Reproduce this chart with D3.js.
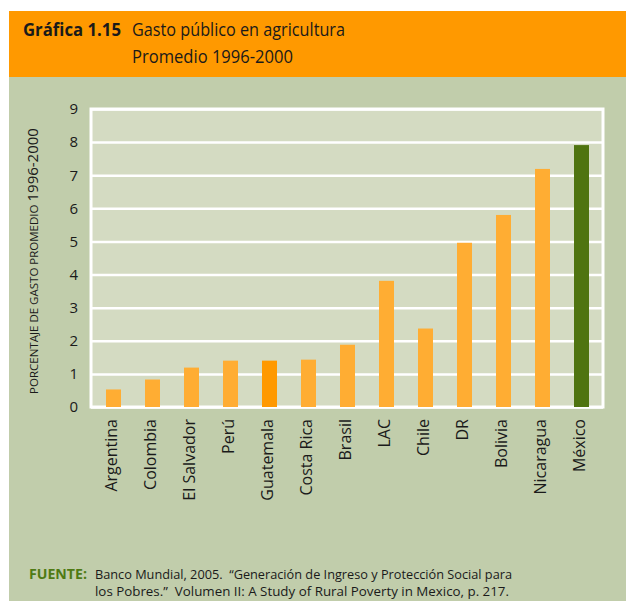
<!DOCTYPE html>
<html>
<head>
<meta charset="utf-8">
<script src="https://cdn.jsdelivr.net/npm/d3@7"></script>
<style>
  body { margin: 0; background: #fff; }
  svg { display: block; font-family: "Open Sans", "Noto Sans", sans-serif; }
</style>
</head>
<body>
<div id="chart"></div>
<script>
// data
var paises = ["Argentina", "Colombia", "El Salvador", "Perú", "Guatemala", "Costa Rica",
              "Brasil", "LAC", "Chile", "DR", "Bolivia", "Nicaragua", "México"];
var gasto = [0.53, 0.83, 1.19, 1.40, 1.40, 1.43, 1.88, 3.81, 2.37, 4.96, 5.80, 7.19, 7.91];
var yTicks = [0, 1, 2, 3, 4, 5, 6, 7, 8, 9];
var resaltados = { "Guatemala": "#ff9900", "México": "#4f7410" };

var W = 626, H = 601;
var margin = {top: 109, right: 23, bottom: 193, left: 91},
    width = W - margin.left - margin.right,
    height = H - margin.top - margin.bottom;

var svg = d3.select("#chart")
  .append("svg")
  .attr("width", W)
  .attr("height", H);

// background panels
svg.append("rect").attr("x", 9).attr("y", 77).attr("width", W - 9).attr("height", H - 77)
  .attr("fill", "#c1cdab");
svg.append("rect").attr("x", 9).attr("y", 11).attr("width", W - 9).attr("height", 66)
  .attr("fill", "#ff9900");

// header (font is narrower in the original, squeeze to its width)
function fitText(sel, len) {
  sel.attr("textLength", len).attr("lengthAdjust", "spacingAndGlyphs");
}
svg.append("text").attr("x", 23).attr("y", 36)
  .style("font-size", "18.5px").style("font-weight", "bold").attr("fill", "#1a1a1a")
  .text("Gráfica 1.15").call(fitText, 98);
svg.append("text").attr("x", 132).attr("y", 36)
  .style("font-size", "18.5px").attr("fill", "#1a1a1a")
  .text("Gasto público en agricultura").call(fitText, 213);
svg.append("text").attr("x", 132).attr("y", 63)
  .style("font-size", "18.5px").attr("fill", "#1a1a1a")
  .text("Promedio 1996-2000").call(fitText, 161);

var g = svg.append("g")
  .attr("transform", "translate(" + margin.left + "," + margin.top + ")");

var x = d3.scaleBand()
  .domain(paises)
  .range([3, width - 2])
  .paddingInner(24 / 39)
  .paddingOuter(12 / 39);

var y = d3.scaleLinear()
  .domain([0, 9])
  .range([height - 1, 0]);

// plot area
g.append("rect")
  .attr("x", 0).attr("y", 0)
  .attr("width", width).attr("height", height - 1)
  .attr("fill", "#d4dbc2")
  .attr("stroke", "#fff")
  .attr("stroke-width", 3);

// grid
g.append("g")
  .call(d3.axisLeft(y).tickValues(yTicks).tickSize(-width).tickFormat(""))
  .call(gg => gg.select(".domain").remove())
  .call(gg => gg.selectAll(".tick line").attr("stroke", "#fff").attr("stroke-width", 2.5));

// y tick labels
g.append("g")
  .call(d3.axisLeft(y).tickValues(yTicks).tickSize(0).tickPadding(13).tickFormat(d3.format("d")))
  .call(gg => gg.select(".domain").remove())
  .call(gg => gg.selectAll(".tick text")
    .style("font-size", "15px")
    .style("font-family", "'Open Sans', sans-serif")
    .attr("fill", "#1a1a1a"));

// bars
g.selectAll(".bar")
  .data(paises)
  .enter()
  .append("rect")
  .attr("class", "bar")
  .attr("x", d => x(d))
  .attr("width", x.bandwidth())
  .attr("y", (d, i) => y(gasto[i]))
  .attr("height", (d, i) => y(0) - y(gasto[i]))
  .attr("fill", d => resaltados[d] || "#ffad33");

// x labels
g.append("g")
  .attr("transform", "translate(-2," + (height + 11) + ")")
  .call(d3.axisBottom(x).tickSize(0).tickPadding(0))
  .call(gg => gg.select(".domain").remove())
  .call(gg => gg.selectAll(".tick text")
    .attr("transform", "rotate(-90)")
    .attr("text-anchor", "end")
    .attr("x", 0).attr("y", 0).attr("dy", "0.35em")
    .style("font-size", "16px")
    .style("font-family", "'Open Sans', sans-serif")
    .attr("fill", "#1a1a1a"));

// y title
var yt = svg.append("text")
  .attr("transform", "translate(38,261) rotate(-90)")
  .attr("text-anchor", "middle")
  .attr("fill", "#1a1a1a");
yt.append("tspan").style("font-size", "11.5px").text("PORCENTAJE DE GASTO PROMEDIO ");
yt.append("tspan").style("font-size", "15px").text("1996-2000");

// source
svg.append("text").attr("x", 29).attr("y", 579)
  .style("font-size", "13.5px").style("font-weight", "bold").attr("fill", "#4f7a14")
  .text("FUENTE:").call(fitText, 58);
svg.append("text").attr("x", 95).attr("y", 579)
  .style("font-size", "13.5px").attr("fill", "#1a1a1a")
  .attr("xml:space", "preserve")
  .text("Banco Mundial, 2005.  \u201cGeneración de Ingreso y Protección Social para")
  .call(fitText, 417);
svg.append("text").attr("x", 95).attr("y", 596)
  .style("font-size", "13.5px").attr("fill", "#1a1a1a")
  .attr("xml:space", "preserve")
  .text("los Pobres.\u201d  Volumen II: A Study of Rural Poverty in Mexico, p. 217.")
  .call(fitText, 414);
</script>
</body>
</html>
